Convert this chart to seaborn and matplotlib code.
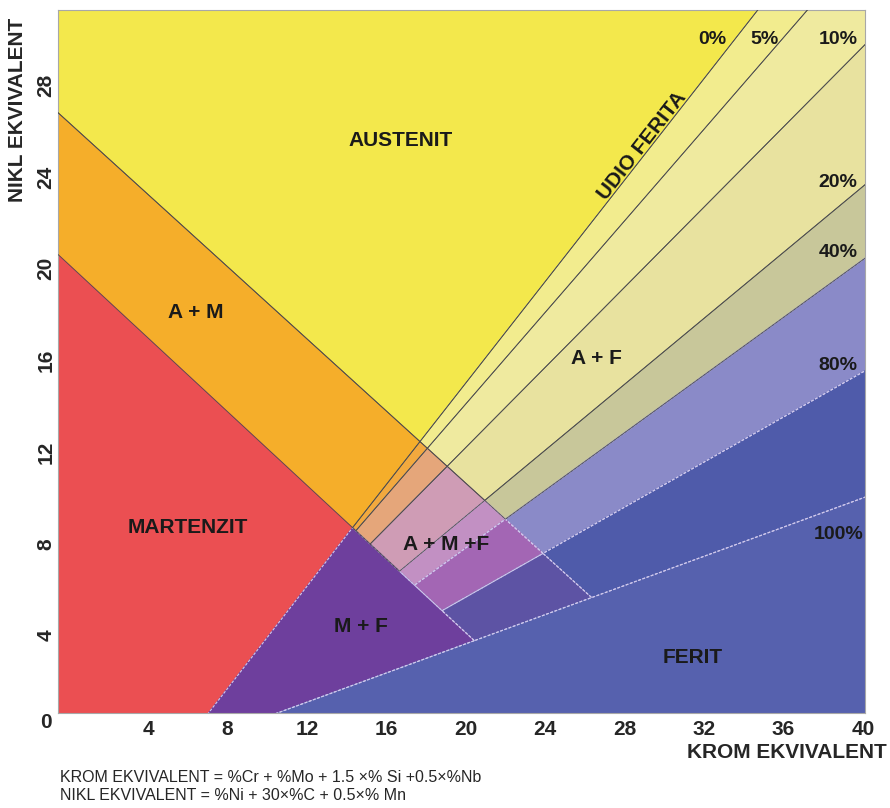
"""
Schaefflerov dijagram - rekonstrukcija slike.
"""

import matplotlib
matplotlib.use("Agg")
import matplotlib.pyplot as plt
import seaborn as sns

# granice faza, svaka linija zadana s dvije tocke (Cr ekv., Ni ekv.)
linija_a_am = [(0.0, 26.4), (26.4, 5.6)]      # A | A+M
linija_m_am = [(0.0, 20.2), (14.3, 8.7)]      # M | A+M
linija_m_mf = [(6.5, 0.0), (14.3, 8.7)]       # M | M+F

# linije udjela ferita
udio_ferita = ["0%", "5%", "10%", "20%", "40%", "80%", "100%"]
ferit_x0 = [14.3, 14.4, 15.2, 16.8, 22.2, 18.85, 8.6]
ferit_y0 = [8.7, 8.5, 8.0, 6.9, 9.2, 5.1, 0.0]
ferit_x1 = [34.7, 37.2, 40.0, 40.0, 40.0, 40.0, 40.0]
ferit_y1 = [31.3, 31.3, 29.7, 23.6, 20.4, 15.5, 10.0]

# boje podrucja
boja_austenit = "#f3e84c"
boja_am = "#f5ae2a"
boja_martenzit = "#eb4f52"
boja_mf = "#6e3f9d"
boja_ferit = "#5661ae"
boje_af = ["#f2ec8e", "#efea9f", "#e8e29f", "#c8c79a", "#8a8ac8", "#4f5baa"]
boje_amf = ["#f2a93e", "#e5a67a", "#cf9cb5", "#c290c3", "#a366b4", "#5d53a4"]
tamne_af = [False, False, False, False, True, True]
tamne_amf = [False, False, False, True, True, True]

x_ticks = [4, 8, 12, 16, 20, 24, 28, 32, 36, 40]
y_ticks = [4, 8, 12, 16, 20, 24, 28]

oznake = ["AUSTENIT", "A + M", "MARTENZIT", "A + M +F", "M + F", "A + F", "FERIT"]
oznake_x = [16.7, 6.4, 6.0, 19.0, 14.7, 26.6, 31.4]
oznake_y = [25.6, 18.1, 8.7, 7.95, 4.4, 16.1, 3.05]

postotak_x = [32.4, 35.05, 38.75, 38.75, 38.75, 38.75, 38.75]
postotak_y = [30.0, 30.0, 30.0, 23.75, 20.7, 15.8, 8.4]

formule = [
    "KROM EKVIVALENT = %Cr + %Mo + 1.5 ×% Si +0.5×%Nb",
    "NIKL EKVIVALENT = %Ni + 30×%C + 0.5×% Mn",
]


def odrezi(poly, linija, iznad):
    """Zadrzi dio poligona iznad (ili ispod) linije."""
    (x1, y1), (x2, y2) = linija

    def f(p):
        v = (x2 - x1) * (p[1] - y1) - (y2 - y1) * (p[0] - x1)
        return v if iznad else -v

    out = []
    for i in range(len(poly)):
        a, b = poly[i], poly[(i + 1) % len(poly)]
        fa, fb = f(a), f(b)
        if fa >= 0:
            out.append(a)
        if fa * fb < 0:
            t = fa / (fa - fb)
            out.append((a[0] + t * (b[0] - a[0]), a[1] + t * (b[1] - a[1])))
    return out


def podrucje(uvjeti):
    poly = [(-5, -5), (45, -5), (45, 40), (-5, 40)]
    for linija, iznad in uvjeti:
        poly = odrezi(poly, linija, iznad)
    return poly


lf = [[(x0, y0), (x1, y1)] for x0, y0, x1, y1 in zip(ferit_x0, ferit_y0, ferit_x1, ferit_y1)]

# (boja, skupina ruba, uvjeti)  skupina: 0 bez ruba, 1 tamno polje (svijetli rub), 2 svijetlo polje (tamni rub)
podrucja = []
podrucja.append((boja_austenit, 2, [(linija_a_am, True), (lf[0], True)]))
for i in range(6):
    podrucja.append((boje_af[i], 1 if tamne_af[i] else 2,
                     [(linija_a_am, True), (lf[i], False), (lf[i + 1], True)]))
podrucja.append((boja_am, 2, [(linija_a_am, False), (linija_m_am, True), (lf[0], True)]))
for i in range(6):
    podrucja.append((boje_amf[i], 1 if tamne_amf[i] else 2,
                     [(linija_a_am, False), (linija_m_am, True), (lf[i], False), (lf[i + 1], True)]))
podrucja.append((boja_martenzit, 0, [(linija_m_am, False), (linija_m_mf, True)]))
podrucja.append((boja_mf, 1, [(linija_m_am, False), (linija_m_mf, False), (lf[6], True)]))
podrucja.append((boja_ferit, 1, [(lf[6], False)]))

sns.set_style("white")
plt.rcParams["font.family"] = ["Liberation Sans", "DejaVu Sans"]

fig = plt.figure(figsize=(8.9, 8.08), dpi=100)
ax = fig.add_axes([58 / 890, 95 / 808, 807 / 890, 703 / 808])

polys = [(c, g, podrucje(u)) for c, g, u in podrucja]
for c, g, p in polys:
    if len(p) < 3:
        continue
    xs, ys = zip(*p)
    ax.fill(xs, ys, color=c, ec=c, lw=0.8, zorder=1)
for c, g, p in polys:
    if g == 1 and len(p) >= 3:
        xs, ys = zip(*p)
        ax.fill(xs, ys, fill=False, ec="#cfc8ec", lw=0.8, ls=(0, (2.5, 1.5)), zorder=2)
for c, g, p in polys:
    if g == 2 and len(p) >= 3:
        xs, ys = zip(*p)
        ax.fill(xs, ys, fill=False, ec="#4f4f4f", lw=0.6, zorder=3)

ax.set_xlim(-0.53, 40.1)
ax.set_ylim(0.61, 31.3)

for t, x, y in zip(oznake, oznake_x, oznake_y):
    ax.text(x, y, t, ha="center", va="center", fontsize=15, fontweight="bold", color="#1a1a1a", zorder=5)
for t, x, y in zip(udio_ferita, postotak_x, postotak_y):
    ax.text(x, y, t, ha="center", va="center", fontsize=14, fontweight="bold", color="#1a1a1a", zorder=5)
ax.text(28.9, 25.35, "UDIO FERITA", ha="center", va="center", rotation=52,
        fontsize=15, fontweight="bold", color="#1a1a1a", zorder=5)

ax.set_xticks(x_ticks)
ax.set_xticklabels([str(v) for v in x_ticks], fontsize=15, fontweight="bold")
ax.set_yticks(y_ticks)
ax.set_yticklabels([str(v) for v in y_ticks], fontsize=15, fontweight="bold", rotation=90, va="center")
ax.tick_params(axis="x", length=0, pad=5)
ax.tick_params(axis="y", length=0, pad=2)
ax.text(-1.15, 0.2, "0", ha="center", va="center", fontsize=15, fontweight="bold", clip_on=False)

for s in ax.spines.values():
    s.set_color("#a8a8a8")
    s.set_linewidth(0.8)

fig.text(18 / 890, 1 - 110 / 808, "NIKL EKVIVALENT", rotation=90, ha="center", va="center",
         fontsize=15, fontweight="bold")
fig.text(787 / 890, 1 - 752 / 808, "KROM EKVIVALENT", ha="center", va="center",
         fontsize=15, fontweight="bold")
fig.text(60 / 890, 1 - 777 / 808, formule[0], ha="left", va="center", fontsize=11.5)
fig.text(60 / 890, 1 - 796 / 808, formule[1], ha="left", va="center", fontsize=11.5)

fig.savefig("out.png", dpi=100, facecolor="white")
